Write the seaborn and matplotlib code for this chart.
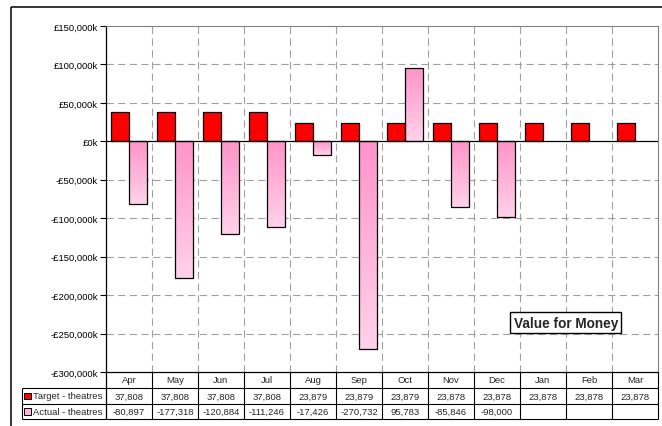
import numpy as np
import pandas as pd
import matplotlib
matplotlib.use("Agg")
import matplotlib.pyplot as plt
import seaborn as sns
from matplotlib.colors import LinearSegmentedColormap
from matplotlib.patches import Rectangle
from matplotlib.ticker import FuncFormatter, MultipleLocator

# ---- data ----
months = ["Apr", "May", "Jun", "Jul", "Aug", "Sep", "Oct", "Nov", "Dec", "Jan", "Feb", "Mar"]
target = [37808, 37808, 37808, 37808, 23879, 23879, 23879, 23878, 23878, 23878, 23878, 23878]
actual = [-80897, -177318, -120884, -111246, -17426, -270732, 95783, -85846, -98000,
          np.nan, np.nan, np.nan]
series_names = ["Target - theatres", "Actual - theatres"]
title_box = "Value for Money"

sns.set_theme(style="white")
plt.rcParams["font.family"] = ["Liberation Sans", "DejaVu Sans"]

W, H = 662, 427
fig = plt.figure(figsize=(W / 100, H / 100), dpi=100)
fig.patch.set_facecolor("white")

# plot area in pixels
PL, PR, PT, PB = 106, 658, 27, 373
ax = fig.add_axes([PL / W, 1 - PB / H, (PR - PL) / W, (PB - PT) / H])
ax.set_facecolor("white")

df = pd.DataFrame({
    "Month": months * 2,
    "Series": [series_names[0]] * len(months) + [series_names[1]] * len(months),
    "Value": target + actual,
})

sns.barplot(data=df, x="Month", y="Value", hue="Series", order=months,
            hue_order=series_names, palette=["#FF0000", "#FF99CC"], saturation=1,
            width=0.8, edgecolor="black", linewidth=0.9, errorbar=None,
            legend=False, ax=ax, zorder=3)

# vertical pink gradient inside the actual bars
cmap = LinearSegmentedColormap.from_list("pinkfade", ["#FF94C9", "#FFD2EA"])
grad = np.linspace(0, 1, 256).reshape(-1, 1)
for bar in ax.containers[1]:
    h = bar.get_height()
    if np.isnan(h):
        continue
    x0, y0, w = bar.get_x(), bar.get_y(), bar.get_width()
    lo, hi = min(y0, y0 + h), max(y0, y0 + h)
    im = ax.imshow(grad, cmap=cmap, extent=[x0, x0 + w, lo, hi], origin="upper",
                   aspect="auto", zorder=2.9, interpolation="bilinear")
    im.set_clip_path(bar)
    bar.set_facecolor("none")

ax.set_xlim(-0.5, len(months) - 0.5)
ax.set_ylim(-300000, 150000)

# grid
grid_kw = dict(color="#a0a0a0", lw=0.8, ls=(0, (6.5, 4)), zorder=1)
for v in np.arange(-250000, 150000, 50000):
    if v != 0:
        ax.axhline(v, **grid_kw)
for xb in np.arange(0.5, len(months) - 1, 1):
    ax.axvline(xb, **grid_kw)
ax.axhline(0, color="black", lw=0.9, zorder=4)

def money(v, pos):
    v = int(round(v))
    return ("-" if v < 0 else "") + f"£{abs(v):,}k"

ax.yaxis.set_major_locator(MultipleLocator(50000))
ax.yaxis.set_major_formatter(FuncFormatter(money))
ax.tick_params(axis="y", direction="out", length=4, width=0.8, colors="black",
               labelsize=6.8, pad=2, left=True)
ax.set_xticks(range(len(months)))
ax.set_xticklabels([])
ax.tick_params(axis="x", length=0)
ax.set_xlabel("")
ax.set_ylabel("")
for s in ("top", "right"):
    ax.spines[s].set_color("#808080")
    ax.spines[s].set_linewidth(0.8)
for s in ("left", "bottom"):
    ax.spines[s].set_color("black")
    ax.spines[s].set_linewidth(0.9)

ax.text(0.833, 0.143, title_box, transform=ax.transAxes, ha="center", va="center",
        fontsize=9.8, fontweight="bold", zorder=6,
        bbox=dict(boxstyle="square,pad=0.25", facecolor="white", edgecolor="black", lw=1))

# ---- data table under the chart (pixel overlay) ----
ov = fig.add_axes([0, 0, 1, 1], zorder=10)
ov.set_xlim(0, W)
ov.set_ylim(H, 0)
ov.axis("off")
ov.patch.set_alpha(0)

n = len(months)
cw = (PR - PL) / n
r0, r1, r2, r3 = PB, 389, 405, 420
LX = 22
lc = "black"
lw = 0.8
ov.vlines([PL + cw * k for k in range(1, n + 1)], r0, r3, color=lc, lw=lw)
ov.vlines([PL], r0, r3, color=lc, lw=0.9)
ov.vlines([LX], r1, r3, color=lc, lw=lw)
ov.hlines([r1, r2, r3], LX, PR, color=lc, lw=lw)

fs = 6.8
for i, m in enumerate(months):
    cx = PL + cw * (i + 0.5)
    ov.text(cx, (r0 + r1) / 2, m, ha="center", va="center", fontsize=fs)
    ov.text(cx, (r1 + r2) / 2, f"{target[i]:,}", ha="center", va="center", fontsize=fs)
    if not np.isnan(actual[i]):
        ov.text(cx, (r2 + r3) / 2, f"{int(actual[i]):,}", ha="center", va="center", fontsize=fs)

for (ya, yb), name, col in [((r1, r2), series_names[0], "#FF0000"),
                             ((r2, r3), series_names[1], "#FFB3DA")]:
    cy = (ya + yb) / 2
    ov.add_patch(Rectangle((24, cy - 3.3), 6.5, 6.5, facecolor=col, edgecolor="black", lw=0.7))
    ov.text(33, cy, name, ha="left", va="center", fontsize=fs)

# outer chart frame
ov.hlines([8], 11, W, color="black", lw=1.1)
ov.vlines([11], 8, H, color="black", lw=1.1)

fig.savefig("out.png", dpi=100)
